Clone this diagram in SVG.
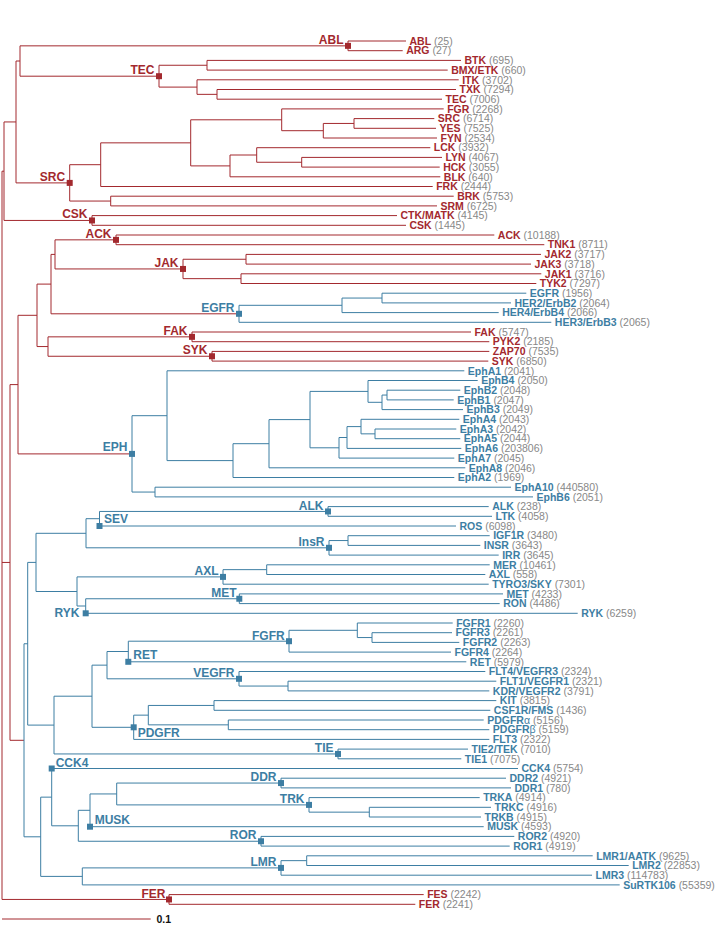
<svg xmlns="http://www.w3.org/2000/svg" width="717" height="928" viewBox="0 0 717 928">
<style>
text{font-family:"Liberation Sans",Arial,Helvetica,sans-serif}
.lf{font-size:10.5px}
.n{font-weight:bold}
.c{fill:#888;font-weight:normal}
.r{fill:#a3292e}
.b{fill:#3d7ea3}
.cl{font-size:12px;font-weight:bold}
.e{text-anchor:end}
.lr{fill:none;stroke:#a3292e;stroke-width:1}
.lb{fill:none;stroke:#3d7ea3;stroke-width:1}
</style>
<defs>
<rect id="m" x="-3" y="-3" width="6" height="6"/>
</defs>
<g id="connectors">
<path class="lr" d="M4,171.2H2V899.45H169 M2,562.45H10
M16,121.95H4V220.45H92
M20,61H16V182.9H69.7
M348,45.85H20V76.2H159
M406,41H348V50.7H402.7
M207,65.25H159V87.1H197
M461,60.4H207V70.1H447.7
M458.7,79.8H197V94.35H217
M456,89.5H217V99.2H442
M100.7,164.7H69.7V201.05H110.7
M190.7,142.85H100.7V186.5H432.7
M281.7,119.8H190.7V165.9H230
M443.7,108.9H281.7V130.7H323.3
M354,123.45H323.3V138H437
M434.3,118.6H354V128.3H436
M256.7,155H230V176.8H440.3
M430.3,147.7H256.7V162.25H301.7
M442,157.4H301.7V167.1H439.7
M453.7,196.2H110.7V205.9H437
M397,215.6H92V225.3H406
M18,384.6H10V740.3H24
M37,315.3H18V453.9H132
M51,284.1H37V346.55H48
M55,254.4H51V313.8H239
M116,239.85H55V268.95H183
M494.3,235H116V244.7H544.3
M246,259.25H183V278.65H241
M541,254.4H246V264.1H531
M541.3,273.8H241V283.5H536.3
M192,336.85H48V356.25H212
M471,332H192V341.7H489.3
M489.3,351.4H212V361.1H488.3
M423.7,894.6H169V904.3H415.3
M2,919H150.7"/>
<path class="lb" d="M342,305.3H239V322.3H551.3
M382,298.05H342V312.6H498.7
M526.3,293.2H382V302.9H511
M167,415.7H132V492.05H155
M464.3,370.8H167V460.6H233
M269,443.7H233V477.5H454.3
M310,419.6H269V467.8H465.3
M368,391.4H310V447.8H339
M477.7,380.5H368V402.3H382
M387,395.05H382V409.6H463
M460.3,390.2H387V399.9H453.7
M347,437.5H339V458.1H454.3
M361,426.6H347V448.4H461.3
M459.3,419.3H361V433.85H375
M456.3,429H375V438.7H460.3
M511,487.2H155V496.9H533
M27.7,643.75H24V836.8H40.7
M36,562.4H27.7V725.1H54
M86,533.3H36V591.5H77
M99.5,518.7H86V547.8H329
M328,511.45H99.5V526H456
M488.7,506.6H328V516.3H492
M348,540.55H329V555.1H498.7
M489.7,535.7H348V545.4H480.3
M223,576.9H77V606H85.7
M266.7,569.65H223V584.2H488.7
M489.7,564.8H266.7V574.5H485.3
M239.3,598.75H85.7V613.3H577.7
M503,593.9H239.3V603.6H499.7
M92,696.2H54V753.95H338
M107,665.15H92V727.3H133.7
M128.3,651.5H107V678.8H239
M289,641.2H128.3V661.8H466.3
M357.3,630.3H289V652.1H451
M452.7,623H357.3V637.55H372
M452,632.7H372V642.4H459.3
M485.3,671.5H239V686.05H288
M496.3,681.2H288V690.9H489.3
M148.3,715.15H133.7V739.4H489.3
M214,705.45H148.3V724.85H228.3
M496.3,700.6H214V710.3H490.3
M483.7,720H228.3V729.7H489.3
M468,749.1H338V758.8H461.3
M51.7,797.15H40.7V876.4H82.3
M518,768.5H51.7V825.8H78.3
M90,810.3H78.3V841.25H261
M116.7,793.95H90V826.7H483.7
M281,783.05H116.7V804.9H309
M506,778.2H281V787.9H511
M479.7,797.6H309V812.15H369.3
M491,807.3H369.3V817H481
M514.3,836.4H261V846.1H509.7
M281,867.9H82.3V884.9H619.7
M306.7,860.65H281V875.2H592
M592.7,855.8H306.7V865.5H628.7"/>
</g>
<g id="clades">
<g id="clade-ABL" class="r"><use href="#m" x="348" y="45.85"/><text class="cl e" x="343.5" y="43.8">ABL</text></g>
<g id="clade-TEC" class="r"><use href="#m" x="159" y="76.2"/><text class="cl e" x="154.5" y="74.2">TEC</text></g>
<g id="clade-SRC" class="r"><use href="#m" x="69.7" y="182.9"/><text class="cl e" x="65.2" y="180.9">SRC</text></g>
<g id="clade-CSK" class="r"><use href="#m" x="92" y="220.45"/><text class="cl e" x="87.5" y="218.4">CSK</text></g>
<g id="clade-ACK" class="r"><use href="#m" x="116" y="239.85"/><text class="cl e" x="111.5" y="237.8">ACK</text></g>
<g id="clade-JAK" class="r"><use href="#m" x="183" y="268.95"/><text class="cl e" x="178.5" y="266.9">JAK</text></g>
<g id="clade-EGFR" class="b"><use href="#m" x="239" y="313.8"/><text class="cl e" x="234.5" y="311.8">EGFR</text></g>
<g id="clade-FAK" class="r"><use href="#m" x="192" y="336.85"/><text class="cl e" x="187.5" y="334.8">FAK</text></g>
<g id="clade-SYK" class="r"><use href="#m" x="212" y="356.25"/><text class="cl e" x="207.5" y="354.2">SYK</text></g>
<g id="clade-EPH" class="b"><use href="#m" x="132" y="453.9"/><text class="cl e" x="127.5" y="451.4">EPH</text></g>
<g id="clade-ALK" class="b"><use href="#m" x="328" y="511.45"/><text class="cl e" x="323.5" y="509.7">ALK</text></g>
<g id="clade-SEV" class="b"><use href="#m" x="99.5" y="526"/><text class="cl" x="104" y="523.3">SEV</text></g>
<g id="clade-InsR" class="b"><use href="#m" x="329" y="547.8"/><text class="cl e" x="324.5" y="545.9">InsR</text></g>
<g id="clade-AXL" class="b"><use href="#m" x="223" y="576.9"/><text class="cl e" x="218.5" y="575">AXL</text></g>
<g id="clade-MET" class="b"><use href="#m" x="239.3" y="598.75"/><text class="cl e" x="236.5" y="597.2">MET</text></g>
<g id="clade-RYK" class="b"><use href="#m" x="85.7" y="613.3"/><text class="cl e" x="79.5" y="617">RYK</text></g>
<g id="clade-FGFR" class="b"><use href="#m" x="289" y="641.2"/><text class="cl e" x="284.7" y="639.6">FGFR</text></g>
<g id="clade-RET" class="b"><use href="#m" x="128.3" y="661.8"/><text class="cl" x="133.3" y="659.3">RET</text></g>
<g id="clade-VEGFR" class="b"><use href="#m" x="239" y="678.8"/><text class="cl e" x="234.5" y="676.8">VEGFR</text></g>
<g id="clade-PDGFR" class="b"><use href="#m" x="133.7" y="727.3"/><text class="cl" x="137.7" y="736.7">PDGFR</text></g>
<g id="clade-TIE" class="b"><use href="#m" x="338" y="753.95"/><text class="cl e" x="333.5" y="751.8">TIE</text></g>
<g id="clade-CCK4" class="b"><use href="#m" x="51.7" y="768.5"/><text class="cl" x="55.7" y="766.7">CCK4</text></g>
<g id="clade-DDR" class="b"><use href="#m" x="281" y="783.05"/><text class="cl e" x="276.5" y="781">DDR</text></g>
<g id="clade-TRK" class="b"><use href="#m" x="309" y="804.9"/><text class="cl e" x="304.5" y="803">TRK</text></g>
<g id="clade-MUSK" class="b"><use href="#m" x="90" y="826.7"/><text class="cl" x="94.7" y="824.3">MUSK</text></g>
<g id="clade-ROR" class="b"><use href="#m" x="261" y="841.25"/><text class="cl e" x="256.5" y="839.3">ROR</text></g>
<g id="clade-LMR" class="b"><use href="#m" x="281" y="867.9"/><text class="cl e" x="276.5" y="866.3">LMR</text></g>
<g id="clade-FER" class="r"><use href="#m" x="169" y="899.45"/><text class="cl e" x="165.5" y="897.6">FER</text></g>
</g>
<g id="leaves" class="lf">
<g id="leaf-ABL" class="r"><text x="409.5" y="44.7"><tspan class="n">ABL</tspan> <tspan class="c">(25)</tspan></text></g>
<g id="leaf-ARG" class="r"><text x="406.2" y="54.4"><tspan class="n">ARG</tspan> <tspan class="c">(27)</tspan></text></g>
<g id="leaf-BTK" class="r"><text x="464.5" y="64.1"><tspan class="n">BTK</tspan> <tspan class="c">(695)</tspan></text></g>
<g id="leaf-BMX" class="r"><text x="451.2" y="73.8"><tspan class="n">BMX/ETK</tspan> <tspan class="c">(660)</tspan></text></g>
<g id="leaf-ITK" class="r"><text x="462.2" y="83.5"><tspan class="n">ITK</tspan> <tspan class="c">(3702)</tspan></text></g>
<g id="leaf-TXK" class="r"><text x="459.5" y="93.2"><tspan class="n">TXK</tspan> <tspan class="c">(7294)</tspan></text></g>
<g id="leaf-TEC" class="r"><text x="445.5" y="102.9"><tspan class="n">TEC</tspan> <tspan class="c">(7006)</tspan></text></g>
<g id="leaf-FGR" class="r"><text x="447.2" y="112.6"><tspan class="n">FGR</tspan> <tspan class="c">(2268)</tspan></text></g>
<g id="leaf-SRC" class="r"><text x="437.8" y="122.3"><tspan class="n">SRC</tspan> <tspan class="c">(6714)</tspan></text></g>
<g id="leaf-YES" class="r"><text x="439.5" y="132"><tspan class="n">YES</tspan> <tspan class="c">(7525)</tspan></text></g>
<g id="leaf-FYN" class="r"><text x="440.5" y="141.7"><tspan class="n">FYN</tspan> <tspan class="c">(2534)</tspan></text></g>
<g id="leaf-LCK" class="r"><text x="433.8" y="151.4"><tspan class="n">LCK</tspan> <tspan class="c">(3932)</tspan></text></g>
<g id="leaf-LYN" class="r"><text x="445.5" y="161.1"><tspan class="n">LYN</tspan> <tspan class="c">(4067)</tspan></text></g>
<g id="leaf-HCK" class="r"><text x="443.2" y="170.8"><tspan class="n">HCK</tspan> <tspan class="c">(3055)</tspan></text></g>
<g id="leaf-BLK" class="r"><text x="443.8" y="180.5"><tspan class="n">BLK</tspan> <tspan class="c">(640)</tspan></text></g>
<g id="leaf-FRK" class="r"><text x="436.2" y="190.2"><tspan class="n">FRK</tspan> <tspan class="c">(2444)</tspan></text></g>
<g id="leaf-BRK" class="r"><text x="457.2" y="199.9"><tspan class="n">BRK</tspan> <tspan class="c">(5753)</tspan></text></g>
<g id="leaf-SRM" class="r"><text x="440.5" y="209.6"><tspan class="n">SRM</tspan> <tspan class="c">(6725)</tspan></text></g>
<g id="leaf-CTK" class="r"><text x="400.5" y="219.3"><tspan class="n">CTK/MATK</tspan> <tspan class="c">(4145)</tspan></text></g>
<g id="leaf-CSK" class="r"><text x="409.5" y="229"><tspan class="n">CSK</tspan> <tspan class="c">(1445)</tspan></text></g>
<g id="leaf-ACK" class="r"><text x="497.8" y="238.7"><tspan class="n">ACK</tspan> <tspan class="c">(10188)</tspan></text></g>
<g id="leaf-TNK1" class="r"><text x="547.8" y="248.4"><tspan class="n">TNK1</tspan> <tspan class="c">(8711)</tspan></text></g>
<g id="leaf-JAK2" class="r"><text x="544.5" y="258.1"><tspan class="n">JAK2</tspan> <tspan class="c">(3717)</tspan></text></g>
<g id="leaf-JAK3" class="r"><text x="534.5" y="267.8"><tspan class="n">JAK3</tspan> <tspan class="c">(3718)</tspan></text></g>
<g id="leaf-JAK1" class="r"><text x="544.8" y="277.5"><tspan class="n">JAK1</tspan> <tspan class="c">(3716)</tspan></text></g>
<g id="leaf-TYK2" class="r"><text x="539.8" y="287.2"><tspan class="n">TYK2</tspan> <tspan class="c">(7297)</tspan></text></g>
<g id="leaf-EGFR" class="b"><text x="529.8" y="296.9"><tspan class="n">EGFR</tspan> <tspan class="c">(1956)</tspan></text></g>
<g id="leaf-HER2" class="b"><text x="514.5" y="306.6"><tspan class="n">HER2/ErbB2</tspan> <tspan class="c">(2064)</tspan></text></g>
<g id="leaf-HER4" class="b"><text x="502.2" y="316.3"><tspan class="n">HER4/ErbB4</tspan> <tspan class="c">(2066)</tspan></text></g>
<g id="leaf-HER3" class="b"><text x="554.8" y="326"><tspan class="n">HER3/ErbB3</tspan> <tspan class="c">(2065)</tspan></text></g>
<g id="leaf-FAK" class="r"><text x="474.5" y="335.7"><tspan class="n">FAK</tspan> <tspan class="c">(5747)</tspan></text></g>
<g id="leaf-PYK2" class="r"><text x="492.8" y="345.4"><tspan class="n">PYK2</tspan> <tspan class="c">(2185)</tspan></text></g>
<g id="leaf-ZAP70" class="r"><text x="492.8" y="355.1"><tspan class="n">ZAP70</tspan> <tspan class="c">(7535)</tspan></text></g>
<g id="leaf-SYK" class="r"><text x="491.8" y="364.8"><tspan class="n">SYK</tspan> <tspan class="c">(6850)</tspan></text></g>
<g id="leaf-EphA1" class="b"><text x="467.8" y="374.5"><tspan class="n">EphA1</tspan> <tspan class="c">(2041)</tspan></text></g>
<g id="leaf-EphB4" class="b"><text x="481.2" y="384.2"><tspan class="n">EphB4</tspan> <tspan class="c">(2050)</tspan></text></g>
<g id="leaf-EphB2" class="b"><text x="463.8" y="393.9"><tspan class="n">EphB2</tspan> <tspan class="c">(2048)</tspan></text></g>
<g id="leaf-EphB1" class="b"><text x="457.2" y="403.6"><tspan class="n">EphB1</tspan> <tspan class="c">(2047)</tspan></text></g>
<g id="leaf-EphB3" class="b"><text x="466.5" y="413.3"><tspan class="n">EphB3</tspan> <tspan class="c">(2049)</tspan></text></g>
<g id="leaf-EphA4" class="b"><text x="462.8" y="423"><tspan class="n">EphA4</tspan> <tspan class="c">(2043)</tspan></text></g>
<g id="leaf-EphA3" class="b"><text x="459.8" y="432.7"><tspan class="n">EphA3</tspan> <tspan class="c">(2042)</tspan></text></g>
<g id="leaf-EphA5" class="b"><text x="463.8" y="442.4"><tspan class="n">EphA5</tspan> <tspan class="c">(2044)</tspan></text></g>
<g id="leaf-EphA6" class="b"><text x="464.8" y="452.1"><tspan class="n">EphA6</tspan> <tspan class="c">(203806)</tspan></text></g>
<g id="leaf-EphA7" class="b"><text x="457.8" y="461.8"><tspan class="n">EphA7</tspan> <tspan class="c">(2045)</tspan></text></g>
<g id="leaf-EphA8" class="b"><text x="468.8" y="471.5"><tspan class="n">EphA8</tspan> <tspan class="c">(2046)</tspan></text></g>
<g id="leaf-EphA2" class="b"><text x="457.8" y="481.2"><tspan class="n">EphA2</tspan> <tspan class="c">(1969)</tspan></text></g>
<g id="leaf-EphA10" class="b"><text x="514.5" y="490.9"><tspan class="n">EphA10</tspan> <tspan class="c">(440580)</tspan></text></g>
<g id="leaf-EphB6" class="b"><text x="536.5" y="500.6"><tspan class="n">EphB6</tspan> <tspan class="c">(2051)</tspan></text></g>
<g id="leaf-ALK" class="b"><text x="492.2" y="510.3"><tspan class="n">ALK</tspan> <tspan class="c">(238)</tspan></text></g>
<g id="leaf-LTK" class="b"><text x="495.5" y="520"><tspan class="n">LTK</tspan> <tspan class="c">(4058)</tspan></text></g>
<g id="leaf-ROS" class="b"><text x="459.5" y="529.7"><tspan class="n">ROS</tspan> <tspan class="c">(6098)</tspan></text></g>
<g id="leaf-IGF1R" class="b"><text x="493.2" y="539.4"><tspan class="n">IGF1R</tspan> <tspan class="c">(3480)</tspan></text></g>
<g id="leaf-INSR" class="b"><text x="483.8" y="549.1"><tspan class="n">INSR</tspan> <tspan class="c">(3643)</tspan></text></g>
<g id="leaf-IRR" class="b"><text x="502.2" y="558.8"><tspan class="n">IRR</tspan> <tspan class="c">(3645)</tspan></text></g>
<g id="leaf-MER" class="b"><text x="493.2" y="568.5"><tspan class="n">MER</tspan> <tspan class="c">(10461)</tspan></text></g>
<g id="leaf-AXL" class="b"><text x="488.8" y="578.2"><tspan class="n">AXL</tspan> <tspan class="c">(558)</tspan></text></g>
<g id="leaf-TYRO3" class="b"><text x="492.2" y="587.9"><tspan class="n">TYRO3/SKY</tspan> <tspan class="c">(7301)</tspan></text></g>
<g id="leaf-MET" class="b"><text x="506.5" y="597.6"><tspan class="n">MET</tspan> <tspan class="c">(4233)</tspan></text></g>
<g id="leaf-RON" class="b"><text x="503.2" y="607.3"><tspan class="n">RON</tspan> <tspan class="c">(4486)</tspan></text></g>
<g id="leaf-RYK" class="b"><text x="581.2" y="617"><tspan class="n">RYK</tspan> <tspan class="c">(6259)</tspan></text></g>
<g id="leaf-FGFR1" class="b"><text x="456.2" y="626.7"><tspan class="n">FGFR1</tspan> <tspan class="c">(2260)</tspan></text></g>
<g id="leaf-FGFR3" class="b"><text x="455.5" y="636.4"><tspan class="n">FGFR3</tspan> <tspan class="c">(2261)</tspan></text></g>
<g id="leaf-FGFR2" class="b"><text x="462.8" y="646.1"><tspan class="n">FGFR2</tspan> <tspan class="c">(2263)</tspan></text></g>
<g id="leaf-FGFR4" class="b"><text x="454.5" y="655.8"><tspan class="n">FGFR4</tspan> <tspan class="c">(2264)</tspan></text></g>
<g id="leaf-RET" class="b"><text x="469.8" y="665.5"><tspan class="n">RET</tspan> <tspan class="c">(5979)</tspan></text></g>
<g id="leaf-FLT4" class="b"><text x="488.8" y="675.2"><tspan class="n">FLT4/VEGFR3</tspan> <tspan class="c">(2324)</tspan></text></g>
<g id="leaf-FLT1" class="b"><text x="499.8" y="684.9"><tspan class="n">FLT1/VEGFR1</tspan> <tspan class="c">(2321)</tspan></text></g>
<g id="leaf-KDR" class="b"><text x="492.8" y="694.6"><tspan class="n">KDR/VEGFR2</tspan> <tspan class="c">(3791)</tspan></text></g>
<g id="leaf-KIT" class="b"><text x="499.8" y="704.3"><tspan class="n">KIT</tspan> <tspan class="c">(3815)</tspan></text></g>
<g id="leaf-CSF1R" class="b"><text x="493.8" y="714"><tspan class="n">CSF1R/FMS</tspan> <tspan class="c">(1436)</tspan></text></g>
<g id="leaf-PDGFRa" class="b"><text x="487.2" y="723.7"><tspan class="n">PDGFR</tspan><tspan>α</tspan> <tspan class="c">(5156)</tspan></text></g>
<g id="leaf-PDGFRb" class="b"><text x="492.8" y="733.4"><tspan class="n">PDGFR</tspan><tspan>β</tspan> <tspan class="c">(5159)</tspan></text></g>
<g id="leaf-FLT3" class="b"><text x="492.8" y="743.1"><tspan class="n">FLT3</tspan> <tspan class="c">(2322)</tspan></text></g>
<g id="leaf-TIE2" class="b"><text x="471.5" y="752.8"><tspan class="n">TIE2/TEK</tspan> <tspan class="c">(7010)</tspan></text></g>
<g id="leaf-TIE1" class="b"><text x="464.8" y="762.5"><tspan class="n">TIE1</tspan> <tspan class="c">(7075)</tspan></text></g>
<g id="leaf-CCK4" class="b"><text x="521.5" y="772.2"><tspan class="n">CCK4</tspan> <tspan class="c">(5754)</tspan></text></g>
<g id="leaf-DDR2" class="b"><text x="509.5" y="781.9"><tspan class="n">DDR2</tspan> <tspan class="c">(4921)</tspan></text></g>
<g id="leaf-DDR1" class="b"><text x="514.5" y="791.6"><tspan class="n">DDR1</tspan> <tspan class="c">(780)</tspan></text></g>
<g id="leaf-TRKA" class="b"><text x="483.2" y="801.3"><tspan class="n">TRKA</tspan> <tspan class="c">(4914)</tspan></text></g>
<g id="leaf-TRKC" class="b"><text x="494.5" y="811"><tspan class="n">TRKC</tspan> <tspan class="c">(4916)</tspan></text></g>
<g id="leaf-TRKB" class="b"><text x="484.5" y="820.7"><tspan class="n">TRKB</tspan> <tspan class="c">(4915)</tspan></text></g>
<g id="leaf-MUSK" class="b"><text x="487.2" y="830.4"><tspan class="n">MUSK</tspan> <tspan class="c">(4593)</tspan></text></g>
<g id="leaf-ROR2" class="b"><text x="517.8" y="840.1"><tspan class="n">ROR2</tspan> <tspan class="c">(4920)</tspan></text></g>
<g id="leaf-ROR1" class="b"><text x="513.2" y="849.8"><tspan class="n">ROR1</tspan> <tspan class="c">(4919)</tspan></text></g>
<g id="leaf-LMR1" class="b"><text x="596.2" y="859.5"><tspan class="n">LMR1/AATK</tspan> <tspan class="c">(9625)</tspan></text></g>
<g id="leaf-LMR2" class="b"><text x="632.2" y="869.2"><tspan class="n">LMR2</tspan> <tspan class="c">(22853)</tspan></text></g>
<g id="leaf-LMR3" class="b"><text x="595.5" y="878.9"><tspan class="n">LMR3</tspan> <tspan class="c">(114783)</tspan></text></g>
<g id="leaf-SuRTK106" class="b"><text x="623.2" y="888.6"><tspan class="n">SuRTK106</tspan> <tspan class="c">(55359)</tspan></text></g>
<g id="leaf-FES" class="r"><text x="427.2" y="898.3"><tspan class="n">FES</tspan> <tspan class="c">(2242)</tspan></text></g>
<g id="leaf-FER" class="r"><text x="418.8" y="908"><tspan class="n">FER</tspan> <tspan class="c">(2241)</tspan></text></g>
</g>
<g id="scale"><text x="156.5" y="922.8" style="font-size:10.5px;font-weight:bold" fill="#111">0.1</text></g>
</svg>
